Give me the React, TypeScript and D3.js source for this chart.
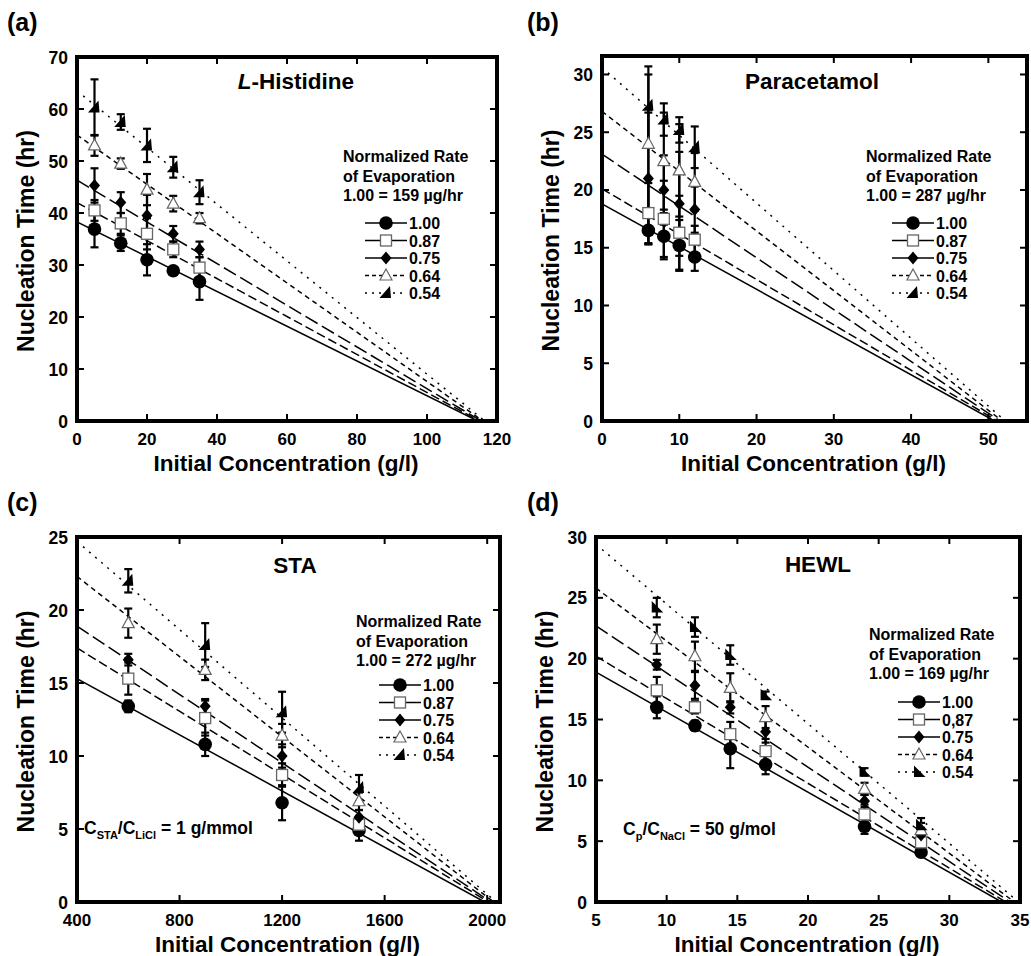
import React from 'react';
import * as d3 from 'd3';

const rates = ['1.00', '0.87', '0.75', '0.64', '0.54'];
const ratesD = ['1.00', '0,87', '0.75', '0.64', '0.54'];

// L-Histidine
const histX = [5, 12.5, 20, 27.5, 35];
const histY = [
  [36.9, 34.2, 31.0, 28.9, 26.8],
  [40.5, 38.0, 36.0, 33.0, 29.5],
  [45.3, 42.0, 39.5, 36.0, 33.0],
  [53.0, 49.5, 44.5, 41.8, 39.0],
  [60.3, 57.5, 53.0, 48.8, 44.0],
];
const histErr = [
  [3.5, 1.5, 3.0, 0.6, 3.5],
  [2.0, 2.0, 3.0, 1.5, 2.0],
  [3.3, 2.0, 4.0, 1.5, 1.5],
  [2.0, 1.0, 3.0, 1.5, 1.0],
  [5.4, 1.5, 3.2, 2.0, 2.3],
];
// fitted lines: [x start, y at start, x where y = 0]
const histFit = [[0, 38.3, 114.5], [0, 42.0, 115], [0, 46.3, 115.5], [0, 55.0, 116], [0, 63.5, 116.5]];

// Paracetamol
const paraX = [6, 8, 10, 12];
const paraY = [
  [16.5, 16.0, 15.2, 14.2],
  [18.0, 17.5, 16.3, 15.7],
  [21.0, 20.0, 18.8, 18.3],
  [24.0, 22.5, 21.7, 20.7],
  [27.3, 26.1, 25.2, 23.7],
];
const paraErr = [
  [1.2, 2.0, 2.2, 1.2],
  [2.6, 3.3, 3.2, 1.2],
  [5.7, 3.0, 4.5, 2.0],
  [6.0, 4.2, 4.0, 2.5],
  [3.4, 1.4, 1.1, 1.8],
];
const paraFit = [[0, 18.8, 50.8], [0, 20.1, 51.2], [0, 23.1, 51.5], [0, 26.8, 51.8], [0, 30.6, 52.2]];

// STA
const staX = [600, 900, 1200, 1500];
const staY = [
  [13.4, 10.8, 6.8, 4.9],
  [15.3, 12.6, 8.7, 5.3],
  [16.6, 13.4, 10.0, 5.8],
  [19.1, 15.9, 11.4, 6.9],
  [22.0, 17.6, 13.0, 7.8],
];
const staErr = [
  [0.4, 0.8, 1.2, 0.7],
  [1.1, 1.2, 0.8, 0.6],
  [0.4, 0.5, 0.8, 0.5],
  [1.0, 0.7, 0.8, 0.6],
  [0.8, 1.5, 1.4, 0.9],
];
const staFit = [[400, 15.3, 1990], [400, 17.4, 2005], [400, 18.9, 2015], [400, 22.3, 2025], [400, 24.7, 2035]];

// HEWL
const hewlX = [9.3, 12, 14.5, 17, 24, 28];
const hewlY = [
  [16.0, 14.5, 12.6, 11.3, 6.2, 4.1],
  [17.4, 16.0, 13.8, 12.4, 7.2, 4.9],
  [19.5, 17.8, 16.0, 14.0, 8.3, 5.5],
  [21.6, 20.2, 17.6, 15.2, 9.3, 5.9],
  [24.2, 22.6, 20.3, 17.0, 10.7, 6.3],
];
const hewlErr = [
  [0.9, 0.4, 1.6, 0.8, 0.6, 0.3],
  [1.1, 0.5, 1.0, 1.0, 0.8, 0.7],
  [0.4, 1.1, 0.5, 0.9, 0.5, 0.6],
  [1.2, 1.2, 1.2, 0.9, 0.5, 0.6],
  [0.8, 0.8, 0.8, 0.3, 0.3, 0.6],
];
const hewlFit = [[5, 18.9, 33.7], [5, 20.2, 34.0], [5, 22.7, 34.3], [5, 25.8, 34.6], [5, 29.4, 34.9]];

const FONT = '"Liberation Sans", Arial, Helvetica, sans-serif';
const dashes = ['none', '9,4', '14,5', '5,4', '2,6'];

const Marker = ({ kind, x, y, flip }) => {
  if (kind === 0) return <circle cx={x} cy={y} r={6.8} fill="#000" />;
  if (kind === 1) return <rect x={x - 5.5} y={y - 5.5} width={11} height={11} fill="#fff" stroke="#666" strokeWidth={1.3} />;
  if (kind === 2) return <path d={`M${x},${y - 6.5}L${x + 5.5},${y}L${x},${y + 6.5}L${x - 5.5},${y}Z`} fill="#000" />;
  if (kind === 3) return <path d={`M${x},${y - 6.5}L${x + 6},${y + 4.5}L${x - 6},${y + 4.5}Z`} fill="#fff" stroke="#666" strokeWidth={1.2} />;
  if (flip) return <path d={`M${x - 5},${y - 6.5}L${x - 5},${y + 5}L${x + 6.5},${y + 5}Z`} fill="#000" />;
  return <path d={`M${x + 4},${y - 7}L${x + 5},${y + 5}L${x - 6.5},${y + 5}Z`} fill="#000" />;
};

const Panel = ({ cfg }) => {
  const { frame, xDomain, yDomain, xTicks, yTicks, xs, ys, errs, fits } = cfg;
  const x = d3.scaleLinear().domain(xDomain).range([frame.x0, frame.x1]);
  const y = d3.scaleLinear().domain(yDomain).range([frame.y1, frame.y0]);
  const line = d3.line().x(d => x(d[0])).y(d => y(d[1]));
  const clipId = `clip-${cfg.id}`;
  const tl = 7;
  return (
    <g fontFamily={FONT} fontWeight="bold">
      <defs>
        <clipPath id={clipId}>
          <rect x={frame.x0} y={frame.y0} width={frame.x1 - frame.x0} height={frame.y1 - frame.y0} />
        </clipPath>
      </defs>
      <text x={cfg.lx} y={cfg.ly} fontSize={25}>{cfg.label}</text>

      {/* fitted lines */}
      <g clipPath={`url(#${clipId})`}>
        {fits.map((f, i) => (
          <path key={i} d={line([[f[0], f[1]], [f[2], 0]])} fill="none" stroke="#000" strokeWidth={1.5} strokeDasharray={dashes[i]} />
        ))}
      </g>

      {/* error bars */}
      {ys.map((s, i) => s.map((v, j) => {
        const e = errs[i][j];
        const cx = x(xs[j]);
        return (
          <g key={`e${i}-${j}`} stroke="#000" strokeWidth={2.2}>
            <line x1={cx} x2={cx} y1={y(v - e)} y2={y(v + e)} />
            <line x1={cx - 4} x2={cx + 4} y1={y(v - e)} y2={y(v - e)} />
            <line x1={cx - 4} x2={cx + 4} y1={y(v + e)} y2={y(v + e)} />
          </g>
        );
      }))}

      {/* markers */}
      {ys.map((s, i) => s.map((v, j) => (
        <Marker key={`m${i}-${j}`} kind={i} x={x(xs[j])} y={y(v)} flip={cfg.flip} />
      )))}

      {/* frame & ticks */}
      <rect x={frame.x0} y={frame.y0} width={frame.x1 - frame.x0} height={frame.y1 - frame.y0} fill="none" stroke="#000" strokeWidth={4} />
      {xTicks.map(t => (
        <g key={`xt${t}`}>
          <line x1={x(t)} x2={x(t)} y1={frame.y1} y2={frame.y1 - tl} stroke="#000" strokeWidth={2} />
          <line x1={x(t)} x2={x(t)} y1={frame.y0} y2={frame.y0 + tl} stroke="#000" strokeWidth={2} />
          <text x={x(t)} y={frame.y1 + 24} fontSize={17} textAnchor="middle">{t}</text>
        </g>
      ))}
      {yTicks.map(t => (
        <g key={`yt${t}`}>
          <line x1={frame.x0} x2={frame.x0 + tl} y1={y(t)} y2={y(t)} stroke="#000" strokeWidth={2} />
          <line x1={frame.x1} x2={frame.x1 - tl} y1={y(t)} y2={y(t)} stroke="#000" strokeWidth={2} />
          <text x={frame.x0 - 9} y={y(t) + 6.5} fontSize={17.5} textAnchor="end">{t}</text>
        </g>
      ))}

      {/* axis titles */}
      <text x={(frame.x0 + frame.x1) / 2 - 1} y={frame.y1 + 50} fontSize={22.5} textAnchor="middle">Initial Concentration (g/l)</text>
      <text transform={`translate(${frame.x0 - 43},${(frame.y0 + frame.y1) / 2 + 2}) rotate(-90)`} fontSize={23} textAnchor="middle">Nucleation Time (hr)</text>

      {/* panel title */}
      <text x={cfg.tx} y={cfg.ty} fontSize={22.5} textAnchor="middle">
        {cfg.italic ? <tspan fontStyle="italic">{cfg.italic}</tspan> : null}
        {cfg.title}
      </text>

      {/* legend */}
      <g fontSize={16}>
        <text x={cfg.leg.x} y={cfg.leg.y}>Normalized Rate</text>
        <text x={cfg.leg.x} y={cfg.leg.y + 19.5}>of Evaporation</text>
        <text x={cfg.leg.x} y={cfg.leg.y + 39}>1.00 = {cfg.leg.rate} µg/hr</text>
        {cfg.names.map((n, i) => {
          const ly = cfg.leg.ey + i * 17.5;
          const mx = cfg.leg.mx;
          return (
            <g key={n}>
              <line x1={mx - 21} x2={mx + 21} y1={ly} y2={ly} stroke="#000" strokeWidth={1.5} strokeDasharray={i < 3 ? 'none' : i === 3 ? '4,3' : '2,5'} />
              <Marker kind={i} x={mx} y={ly} flip={cfg.flip} />
              <text x={mx + 23} y={ly + 6}>{n}</text>
            </g>
          );
        })}
      </g>

      {cfg.note ? (
        <text x={cfg.note.x} y={cfg.note.y} fontSize={17.5}>
          C<tspan fontSize={11} dy={5}>{cfg.note.a}</tspan>
          <tspan dy={-5}>/C</tspan>
          <tspan fontSize={11} dy={5}>{cfg.note.b}</tspan>
          <tspan dy={-5}>{cfg.note.rest}</tspan>
        </text>
      ) : null}
    </g>
  );
};

const panels = [
  {
    id: 'a', label: '(a)', lx: 7, ly: 31,
    frame: { x0: 77, x1: 497, y0: 57, y1: 421 },
    xDomain: [0, 120], yDomain: [0, 70],
    xTicks: d3.range(0, 121, 20), yTicks: d3.range(0, 71, 10),
    xs: histX, ys: histY, errs: histErr, fits: histFit,
    italic: 'L', title: '-Histidine', tx: 296, ty: 89,
    leg: { x: 343, y: 162, rate: '159', ey: 223, mx: 386 },
    names: rates,
  },
  {
    id: 'b', label: '(b)', lx: 527, ly: 31,
    frame: { x0: 602, x1: 1027, y0: 56, y1: 421 },
    xDomain: [0, 55], yDomain: [0, 31.6],
    xTicks: d3.range(0, 51, 10), yTicks: d3.range(0, 31, 5),
    xs: paraX, ys: paraY, errs: paraErr, fits: paraFit,
    title: 'Paracetamol', tx: 812, ty: 89,
    leg: { x: 866, y: 162, rate: '287', ey: 223, mx: 913 },
    names: rates,
  },
  {
    id: 'c', label: '(c)', lx: 7, ly: 511,
    frame: { x0: 77, x1: 500, y0: 537, y1: 902 },
    xDomain: [400, 2050], yDomain: [0, 25],
    xTicks: d3.range(400, 2001, 400), yTicks: d3.range(0, 26, 5),
    xs: staX, ys: staY, errs: staErr, fits: staFit,
    title: 'STA', tx: 295, ty: 573,
    leg: { x: 356, y: 627, rate: '272', ey: 685, mx: 400 },
    names: rates,
    note: { x: 84, y: 834, a: 'STA', b: 'LiCl', rest: ' = 1 g/mmol' },
  },
  {
    id: 'd', label: '(d)', lx: 527, ly: 511,
    frame: { x0: 596, x1: 1020, y0: 537, y1: 902 },
    xDomain: [5, 35], yDomain: [0, 30],
    xTicks: d3.range(5, 36, 5), yTicks: d3.range(0, 31, 5),
    xs: hewlX, ys: hewlY, errs: hewlErr, fits: hewlFit,
    title: 'HEWL', tx: 818, ty: 572,
    leg: { x: 869, y: 640, rate: '169', ey: 702, mx: 919 },
    names: ratesD, flip: true,
    note: { x: 623, y: 835, a: 'p', b: 'NaCl', rest: ' = 50 g/mol' },
  },
];

export default function App() {
  return (
    <svg width={1031} height={956} style={{ position: 'absolute', left: 0, top: 0, background: '#fff' }}>
      <rect width={1031} height={956} fill="#fff" />
      {panels.map(p => <Panel key={p.id} cfg={p} />)}
    </svg>
  );
}
